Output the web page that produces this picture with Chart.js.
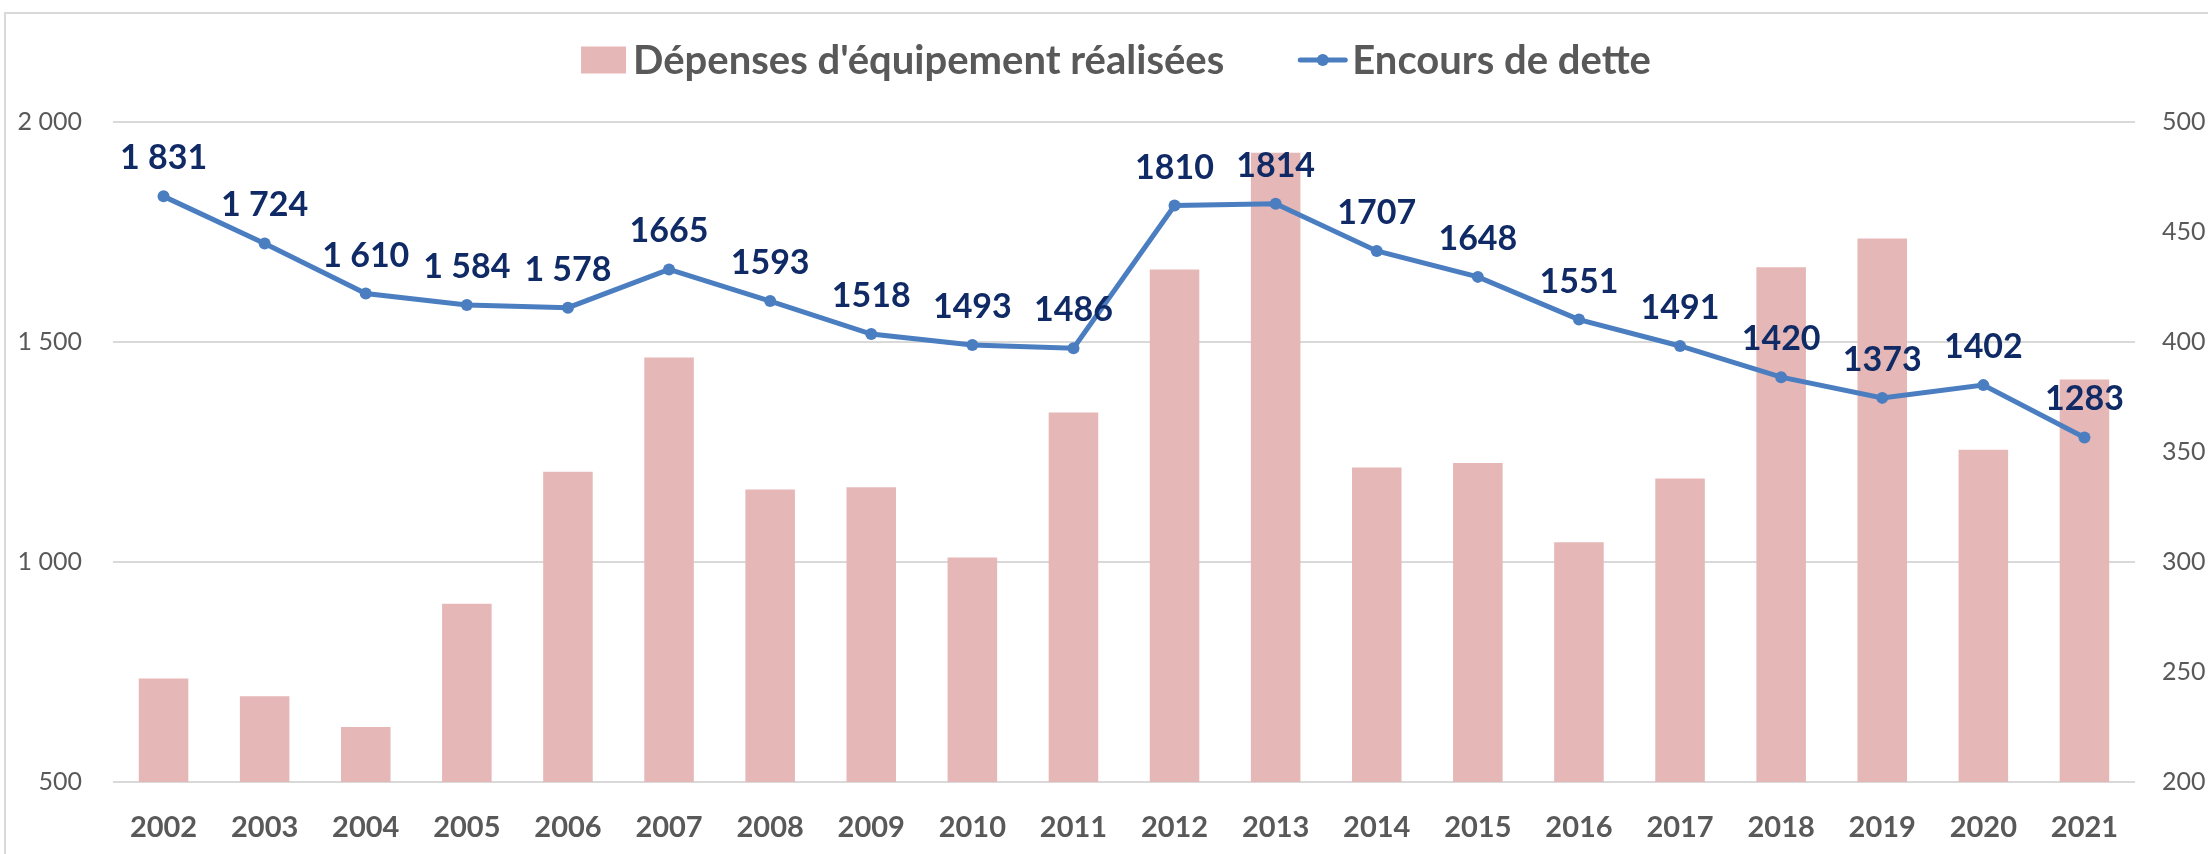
<!DOCTYPE html>
<html>
<head>
<meta charset="utf-8">
<script src="https://cdn.jsdelivr.net/npm/chart.js@4"></script>
<style>
  html, body { margin: 0; padding: 0; background: #ffffff; overflow: hidden; }
  #wrap { position: relative; width: 2208px; height: 854px; }
  #frame { position: absolute; left: 4px; top: 12px; width: 3000px; height: 3000px;
           border-left: 2px solid #d9d9d9; border-top: 2px solid #d9d9d9; }
  canvas { position: absolute; left: 0; top: 0; }
</style>
</head>
<body>
<div id="wrap">
  <div id="frame"></div>
  <canvas id="c" width="2208" height="854"></canvas>
</div>
<script>
const years = ['2002','2003','2004','2005','2006','2007','2008','2009','2010','2011',
               '2012','2013','2014','2015','2016','2017','2018','2019','2020','2021'];
const equipment = [247, 239, 225, 281, 341, 393, 333, 334, 302, 368,
                   433, 486, 343, 345, 309, 338, 434, 447, 351, 383];
const debt = [1831, 1724, 1610, 1584, 1578, 1665, 1593, 1518, 1493, 1486,
              1810, 1814, 1707, 1648, 1551, 1491, 1420, 1373, 1402, 1283];
const debtLabels = ['1 831','1 724','1 610','1 584','1 578','1665','1593','1518','1493','1486',
                    '1810','1814','1707','1648','1551','1491','1420','1373','1402','1283'];
const leftTickValues = [500, 1000, 1500, 2000];
const leftTickLabels = ['500', '1 000', '1 500', '2 000'];
const rightTickValues = [200, 250, 300, 350, 400, 450, 500];
const rightTickLabels = ['200', '250', '300', '350', '400', '450', '500'];
const seriesNames = ["Dépenses d'équipement réalisées", 'Encours de dette'];

const FONT = 'Lato, "Open Sans", sans-serif';
const GREY = '#595959';
const BAR_COLOR = '#e5b7b6';
const LINE_COLOR = '#4a7ec0';
const LABEL_COLOR = '#102a66';

const dataLabelPlugin = {
  id: 'dataLabels',
  afterDatasetsDraw(chart) {
    const meta = chart.getDatasetMeta(0);
    const ctx = chart.ctx;
    ctx.save();
    ctx.font = 'bold 34px ' + FONT;
    ctx.fillStyle = LABEL_COLOR;
    ctx.textAlign = 'center';
    ctx.textBaseline = 'alphabetic';
    meta.data.forEach((pt, i) => {
      ctx.fillText(debtLabels[i], pt.x, pt.y - 27);
    });
    ctx.restore();
  }
};

const legendPlugin = {
  id: 'customLegend',
  afterDraw(chart) {
    const ctx = chart.ctx;
    const barDs = chart.data.datasets[1];
    const lineDs = chart.data.datasets[0];
    ctx.save();
    ctx.font = 'bold 40px ' + FONT;
    const w1 = ctx.measureText(barDs.label).width;
    const w2 = ctx.measureText(lineDs.label).width;
    const boxW = 45, boxH = 27, gap1 = 7, itemGap = 74, lineW = 49, gap2 = 5;
    const total = boxW + gap1 + w1 + itemGap + lineW + gap2 + w2;
    const ca = chart.chartArea;
    const cx = (ca.left + ca.right) / 2 - 8;
    const cy = 60;
    let x = cx - total / 2;
    ctx.fillStyle = barDs.backgroundColor;
    ctx.fillRect(x, cy - boxH / 2, boxW, boxH);
    x += boxW + gap1;
    ctx.fillStyle = GREY;
    ctx.textBaseline = 'middle';
    ctx.textAlign = 'left';
    ctx.fillText(barDs.label, x, cy + 1);
    x += w1 + itemGap;
    ctx.strokeStyle = lineDs.borderColor;
    ctx.lineWidth = 5;
    ctx.lineCap = 'round';
    ctx.beginPath();
    ctx.moveTo(x + 2, cy);
    ctx.lineTo(x + lineW - 2, cy);
    ctx.stroke();
    ctx.fillStyle = lineDs.borderColor;
    ctx.beginPath();
    ctx.arc(x + lineW / 2, cy, 6, 0, Math.PI * 2);
    ctx.fill();
    x += lineW + gap2;
    ctx.fillStyle = GREY;
    ctx.fillText(lineDs.label, x, cy + 1);
    ctx.restore();
  }
};

new Chart(document.getElementById('c'), {
  type: 'bar',
  data: {
    labels: years,
    datasets: [
      {
        type: 'line',
        label: seriesNames[1],
        data: debt,
        yAxisID: 'y',
        borderColor: LINE_COLOR,
        backgroundColor: LINE_COLOR,
        borderWidth: 5,
        pointRadius: 6,
        pointBorderWidth: 0,
        pointBackgroundColor: LINE_COLOR,
        tension: 0,
        order: 0
      },
      {
        type: 'bar',
        label: seriesNames[0],
        data: equipment,
        yAxisID: 'y1',
        backgroundColor: BAR_COLOR,
        borderWidth: 0,
        barPercentage: 0.49,
        categoryPercentage: 1,
        order: 1
      }
    ]
  },
  options: {
    responsive: false,
    animation: false,
    devicePixelRatio: 1,
    layout: { padding: { top: 122, left: 0, right: 0, bottom: 0 } },
    plugins: {
      legend: { display: false },
      tooltip: { enabled: false }
    },
    scales: {
      x: {
        grid: { display: false, drawTicks: false },
        border: { display: false },
        ticks: {
          color: GREY,
          font: { family: FONT, size: 29, weight: 'bold' },
          padding: 28,
          maxRotation: 0,
          autoSkip: false
        },
        afterFit(s) { s.height = 72; }
      },
      y: {
        position: 'left',
        min: 500, max: 2000,
        afterBuildTicks(s) { s.ticks = leftTickValues.map(v => ({ value: v })); },
        grid: { color: '#d9d9d9', lineWidth: 2, drawTicks: false },
        border: { display: false },
        ticks: {
          color: GREY,
          font: { family: FONT, size: 25 },
          padding: 31,
          callback(v) { const i = leftTickValues.indexOf(v); return i >= 0 ? leftTickLabels[i] : ''; }
        },
        afterFit(s) { s.width = 113; }
      },
      y1: {
        position: 'right',
        min: 200, max: 500,
        afterBuildTicks(s) { s.ticks = rightTickValues.map(v => ({ value: v })); },
        grid: { drawOnChartArea: false, drawTicks: false },
        border: { display: false },
        ticks: {
          color: GREY,
          font: { family: FONT, size: 25 },
          padding: 27,
          callback(v) { const i = rightTickValues.indexOf(v); return i >= 0 ? rightTickLabels[i] : ''; }
        },
        afterFit(s) { s.width = 73; }
      }
    }
  },
  plugins: [dataLabelPlugin, legendPlugin]
});
</script>
</body>
</html>
